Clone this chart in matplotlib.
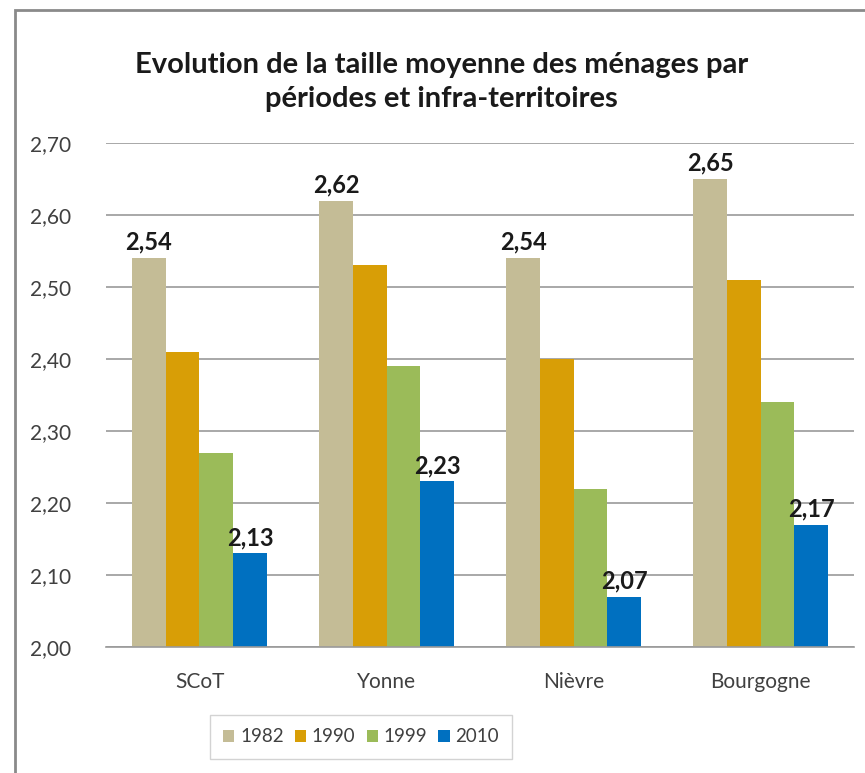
import numpy as np
import matplotlib
matplotlib.use("Agg")
import matplotlib.pyplot as plt
from matplotlib.patches import Rectangle
from matplotlib.ticker import FuncFormatter

plt.rcParams['font.family'] = ['Lato', 'DejaVu Sans']

territoires = ["SCoT", "Yonne", "Nièvre", "Bourgogne"]
annees = ["1982", "1990", "1999", "2010"]
v1982 = [2.54, 2.62, 2.54, 2.65]
v1990 = [2.41, 2.53, 2.40, 2.51]
v1999 = [2.27, 2.39, 2.22, 2.34]
v2010 = [2.13, 2.23, 2.07, 2.17]
couleurs = ["#C4BC96", "#D89E06", "#9BBB59", "#0070C0"]

series = [v1982, v1990, v1999, v2010]

fig = plt.figure(figsize=(8.65, 7.73), dpi=100)
ax = fig.add_axes([0.1225, 0.163, 0.865, 0.652])

# cadre du graphique (coupé à droite et en bas)
fig.patches.append(Rectangle((15 / 865, -0.1), 1.2, 1.1 - 10 / 773,
                             transform=fig.transFigure, fill=False,
                             edgecolor="#8A8A8A", linewidth=2))

x = np.arange(len(territoires))
w = 0.18
for i, (vals, c, an) in enumerate(zip(series, couleurs, annees)):
    pos = x + (i - 1.5) * w
    bars = ax.bar(pos, np.array(vals) - 2.0, w, bottom=2.0, color=c, label=an)
    if an in ("1982", "2010"):
        for b, v in zip(bars, vals):
            ax.text(b.get_x() + b.get_width() / 2, v + 0.006,
                    f"{v:.2f}".replace(".", ","), ha="center", va="bottom",
                    fontsize=17, fontweight="bold", color="#1A1A1A")

ax.set_ylim(2.0, 2.7)
ax.set_xlim(-0.5, 3.5)
ax.set_yticks(np.arange(2.0, 2.71, 0.1))
ax.yaxis.set_major_formatter(FuncFormatter(lambda v, p: f"{v:.2f}".replace(".", ",")))
ax.set_xticks(x)
ax.set_xticklabels(territoires)
ax.tick_params(axis="both", length=0, labelsize=15, colors="#404040")
ax.tick_params(axis="y", pad=25)
ax.tick_params(axis="x", pad=18)
ax.yaxis.grid(True, color="#9A9A9A", linewidth=1.2)
ax.set_axisbelow(True)
for s in ["top", "right", "left"]:
    ax.spines[s].set_visible(False)
ax.spines["bottom"].set_color("#9A9A9A")
ax.spines["bottom"].set_linewidth(1.2)

fig.text(0.51, 0.894, "Evolution de la taille moyenne des ménages par\npériodes et infra-territoires",
         ha="center", va="center", fontsize=21, fontweight="bold",
         color="#1A1A1A", linespacing=1.35)

leg = fig.legend(loc="center", bbox_to_anchor=(361 / 865, 1 - 737 / 773), ncol=4,
                 frameon=True, fontsize=13.5, handlelength=0.6, handleheight=0.6,
                 handletextpad=0.3, columnspacing=0.6, borderpad=0.7,
                 fancybox=False)
leg.get_frame().set_edgecolor("#C8C8C8")
for t in leg.get_texts():
    t.set_color("#404040")

fig.savefig("out.png", dpi=100)
